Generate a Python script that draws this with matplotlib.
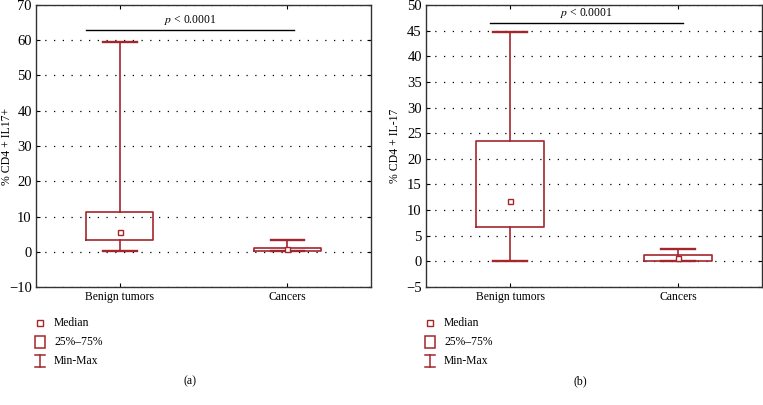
import matplotlib
matplotlib.use("Agg")
import matplotlib.pyplot as plt
from matplotlib.lines import Line2D
from matplotlib.patches import Rectangle

categories = ["Benign tumors", "Cancers"]

# Panel (a): % CD4 + IL17+
a_min = [0.2, 0.1]
a_q1 = [3.4, 0.3]
a_med = [5.5, 0.8]
a_q3 = [11.2, 1.1]
a_max = [59.4, 3.2]
a_p_y = 62.9
a_yticks = [-10, 0, 10, 20, 30, 40, 50, 60, 70]

# Panel (b): % CD4 + IL-17
b_min = [0.0, 0.0]
b_q1 = [6.7, 0.1]
b_med = [11.7, 0.6]
b_q3 = [23.4, 1.3]
b_max = [44.8, 2.5]
b_p_y = 46.4
b_yticks = [-5, 0, 5, 10, 15, 20, 25, 30, 35, 40, 45, 50]

RED = "#a3262c"
FONT = "Liberation Serif"
plt.rcParams["font.family"] = [FONT, "DejaVu Serif"]
plt.rcParams["mathtext.fontset"] = "stix"

fig = plt.figure(figsize=(7.63, 4.05), dpi=100)


def panel(rect, mins, q1s, meds, q3s, maxs, p_y, yticks, ylabel, p_x, leg_x, tag, lab_x):
    ax = fig.add_axes(rect)
    stats = []
    for i, c in enumerate(categories):
        stats.append(dict(label=c, med=meds[i], q1=q1s[i], q3=q3s[i],
                          whislo=mins[i], whishi=maxs[i], fliers=[]))
    ax.bxp(stats, positions=[1, 2], widths=0.4, showfliers=False,
           boxprops=dict(color=RED, linewidth=1.2),
           whiskerprops=dict(color=RED, linewidth=1.2),
           capprops=dict(color=RED, linewidth=1.7),
           medianprops=dict(visible=False),
           capwidths=0.2, manage_ticks=False, zorder=3)
    ax.plot([1, 2], meds, linestyle="none", marker="s", markersize=3.6,
            markerfacecolor="white", markeredgecolor=RED, markeredgewidth=1.0, zorder=4)
    ax.set_xlim(0.5, 2.5)
    ax.set_ylim(yticks[0], yticks[-1])
    ax.set_yticks(yticks)
    ax.set_xticks([1, 2])
    ax.set_xticklabels(categories, fontsize=8.4)
    ax.tick_params(axis="y", labelsize=10.5, direction="in", right=True, length=3, pad=3)
    ax.tick_params(axis="x", direction="in", top=True, length=3, pad=3)
    ax.yaxis.grid(True, linestyle=(0, (1, 6)), color="black", linewidth=0.9)
    ax.set_axisbelow(True)
    for s in ax.spines.values():
        s.set_color("#333333")
        s.set_linewidth(1.0)
    ax.set_ylabel(ylabel, fontsize=8.5)
    ax.yaxis.set_label_coords(lab_x, 0.5)
    # significance line
    ax.plot(p_x, [p_y, p_y], color="black", linewidth=1.0, zorder=3)
    ax.text(sum(p_x) / 2, p_y + (yticks[-1] - yticks[0]) * 0.012, "$p$ < 0.0001",
            ha="center", va="bottom", fontsize=8.4)

    # legend (figure pixel coords)
    lx = leg_x
    rows = [323, 342, 361]
    H = 405.0
    W = 763.0
    fx = lambda x: x / W
    fy = lambda y: 1 - y / H
    fig.add_artist(Line2D([fx(lx)], [fy(rows[0])], marker="s", markersize=3.8,
                          markerfacecolor="white", markeredgecolor=RED,
                          markeredgewidth=1.0, linestyle="none"))
    fig.add_artist(Rectangle((fx(lx - 5), fy(rows[1] + 6)), 10 / W, 12 / H,
                             facecolor="white", edgecolor=RED, linewidth=1.1))
    fig.add_artist(Line2D([fx(lx), fx(lx)], [fy(rows[2] - 6), fy(rows[2] + 6)],
                          color=RED, linewidth=1.1))
    fig.add_artist(Line2D([fx(lx - 5), fx(lx + 5)], [fy(rows[2] - 6)] * 2,
                          color=RED, linewidth=1.1))
    fig.add_artist(Line2D([fx(lx - 5), fx(lx + 5)], [fy(rows[2] + 6)] * 2,
                          color=RED, linewidth=1.1))
    for y, t in zip(rows, ["Median", "25%–75%", "Min-Max"]):
        fig.text(fx(lx + 14), fy(y), t, ha="left", va="center", fontsize=8.4)
    fig.text(fx(leg_x + 150), fy(381), tag, ha="center", va="center", fontsize=8.6)
    return ax


panel([36 / 763, 1 - 287 / 405, 335 / 763, 282 / 405],
      a_min, a_q1, a_med, a_q3, a_max, a_p_y, a_yticks, "% CD4 + IL17+",
      [0.8, 2.04], 40, "(a)", -0.069)
panel([426 / 763, 1 - 287 / 405, 336 / 763, 282 / 405],
      b_min, b_q1, b_med, b_q3, b_max, b_p_y, b_yticks, "% CD4 + IL-17",
      [0.88, 2.03], 430, "(b)", -0.074)

fig.savefig("out.png", dpi=100)
